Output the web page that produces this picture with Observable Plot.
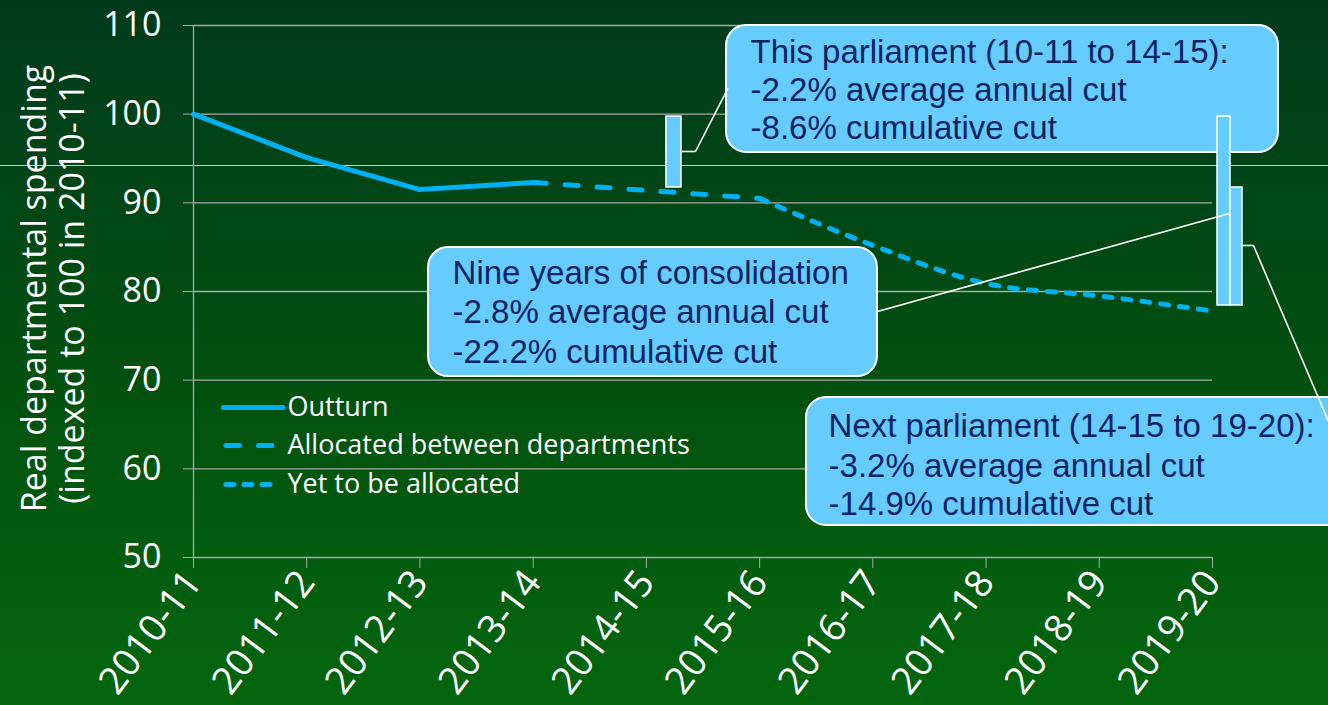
<!DOCTYPE html>
<html>
<head>
<meta charset="utf-8">
<script src="https://cdn.jsdelivr.net/npm/d3@7"></script>
<script src="https://cdn.jsdelivr.net/npm/@observablehq/plot@0.6"></script>
<style>
  html, body { margin: 0; padding: 0; }
  body { width: 1328px; height: 705px; overflow: hidden;
         background: linear-gradient(to bottom, #013b1d 0%, #02510f 55%, #03660e 100%); }
  #chart svg { display: block; }
</style>
</head>
<body>
<div id="chart"></div>
<script>
// ---- data ----
const years = ["2010-11","2011-12","2012-13","2013-14","2014-15","2015-16","2016-17","2017-18","2018-19","2019-20"];
const outturnIdx = [0, 1, 2, 3];
const outturnVal = [100, 95.1, 91.5, 92.3];
const allocatedIdx = [3, 4, 5];
const allocatedVal = [92.3, 91.4, 90.5];
const yetIdx = [5, 6, 7, 8, 9];
const yetVal = [90.5, 85.2, 80.9, 79.5, 77.8];
const yTicks = [50, 60, 70, 80, 90, 100, 110];
const legendLabels = ["Outturn", "Allocated between departments", "Yet to be allocated"];
const box1Text = ["This parliament (10-11 to 14-15):", "-2.2% average annual cut", "-8.6% cumulative cut"];
const box2Text = ["Nine years of consolidation", "-2.8% average annual cut", "-22.2% cumulative cut"];
const box3Text = ["Next parliament (14-15 to 19-20):", "-3.2% average annual cut", "-14.9% cumulative cut"];

const toRows = (xs, vs) => xs.map((x, i) => ({x, y: vs[i]}));
const outturn = toRows(outturnIdx, outturnVal);
const allocated = toRows(allocatedIdx, allocatedVal);
const yet = toRows(yetIdx, yetVal);

// ---- annotation layout (in data units) ----
const lineBlue = "#00b0f0";
const boxFill = "#66ccff";
const navy = "#0c2461";
const gray = "#a9a9a9";
const boxes = [
  {x1: 4.708, x2: 9.583, y1: 95.68, y2: 110},
  {x1: 2.076, x2: 6.041, y1: 70.41, y2: 84.96},
  {x1: 5.414, x2: 10.2, y1: 53.61, y2: 68.04}
];
const boxTextRows = [
  ...box1Text.map((t, i) => ({x: 4.92, y: [106.95, 102.67, 98.38][i], t})),
  ...box2Text.map((t, i) => ({x: 2.288, y: [82.03, 77.63, 73.12][i], t})),
  ...box3Text.map((t, i) => ({x: 5.609, y: [64.77, 60.26, 55.98][i], t}))
];
const brackets = [
  {x1: 4.177, x2: 4.31, y1: 91.73, y2: 99.73},
  {x1: 9.044, x2: 9.159, y1: 78.42, y2: 99.73},
  {x1: 9.159, x2: 9.265, y1: 78.42, y2: 91.73}
];
const connectors = [
  {x1: 4.31, y1: 95.79, x2: 4.434, y2: 95.79},
  {x1: 4.434, y1: 95.79, x2: 4.72, y2: 102.9},
  {x1: 9.265, y1: 85.19, x2: 9.362, y2: 85.19},
  {x1: 9.362, y1: 85.19, x2: 10.04, y2: 64.89},
  {x1: 6.041, y1: 77.74, x2: 9.15, y2: 88.8}
];
const legendY = [66.92, 62.63, 58.23];

const chart = Plot.plot({
  width: 1328,
  height: 705,
  marginLeft: 193,
  marginRight: 116,
  marginTop: 25,
  marginBottom: 148,
  style: {background: "transparent", color: "white", fontFamily: "Open Sans, sans-serif", overflow: "visible"},
  x: {type: "linear", domain: [0, 9]},
  y: {domain: [50, 110]},
  marks: [
    // thin full-width slide line
    Plot.ruleY([94.21], {x1: -1.71, x2: 10.03, stroke: "#c8c8c8", strokeWidth: 1}),
    Plot.ruleY(yTicks, {stroke: gray, strokeWidth: 1.3}),
    Plot.ruleX([0], {y1: 50, y2: 110, stroke: gray, strokeWidth: 1.3}),
    Plot.axisY({ticks: yTicks, tickSize: 10, tickPadding: 22, fontSize: 34, stroke: gray, fill: "white", label: null}),
    Plot.axisX({ticks: d3.range(10), tickFormat: i => years[i], tickSize: 11, tickPadding: 7, tickRotate: -53,
                fontSize: 38, stroke: gray, fill: "white", label: null}),
    Plot.text(["Real departmental spending\n(indexed to 100 in 2010-11)"], {
      frameAnchor: "left", dx: -141, dy: -3, rotate: -90, fontSize: 34, lineHeight: 1.12, fill: "white", textAnchor: "middle"
    }),
    // series
    Plot.line(outturn, {x: "x", y: "y", stroke: lineBlue, strokeWidth: 5, strokeLinecap: "round", strokeLinejoin: "round"}),
    Plot.line(allocated, {x: "x", y: "y", stroke: lineBlue, strokeWidth: 5, strokeLinecap: "round",
                          strokeDasharray: "13,19", curve: "monotone-x"}),
    Plot.line(yet, {x: "x", y: "y", stroke: lineBlue, strokeWidth: 5, strokeLinecap: "round",
                    strokeDasharray: "8,11", curve: "monotone-x"}),
    // legend
    Plot.link([0], {x1: 0.265, x2: 0.79, y1: legendY[0], y2: legendY[0], stroke: lineBlue, strokeWidth: 5, strokeLinecap: "round"}),
    Plot.link([0], {x1: 0.287, x2: 0.73, y1: legendY[1], y2: legendY[1], stroke: lineBlue, strokeWidth: 5, strokeLinecap: "round", strokeDasharray: "13.5,19"}),
    Plot.link([0], {x1: 0.287, x2: 0.73, y1: legendY[2], y2: legendY[2], stroke: lineBlue, strokeWidth: 5, strokeLinecap: "round", strokeDasharray: "8,10"}),
    Plot.text(legendLabels, {x: 0.83, y: (d, i) => legendY[i], text: d => d, textAnchor: "start", fontSize: 27, fill: "white"}),
    // callout boxes
    Plot.rect(boxes, {x1: "x1", x2: "x2", y1: "y1", y2: "y2", fill: boxFill, stroke: "white", strokeWidth: 2, rx: 20}),
    Plot.text(boxTextRows, {x: "x", y: "y", text: "t", textAnchor: "start", fontSize: 33,
                            fontFamily: "Liberation Sans, Arial, sans-serif", fill: navy}),
    // brackets and connectors
    Plot.rect(brackets, {x1: "x1", x2: "x2", y1: "y1", y2: "y2", fill: boxFill, stroke: "white", strokeWidth: 1.5}),
    Plot.link(connectors, {x1: "x1", y1: "y1", x2: "x2", y2: "y2", stroke: "white", strokeWidth: 1.6})
  ]
});
document.getElementById("chart").appendChild(chart);
</script>
</body>
</html>
